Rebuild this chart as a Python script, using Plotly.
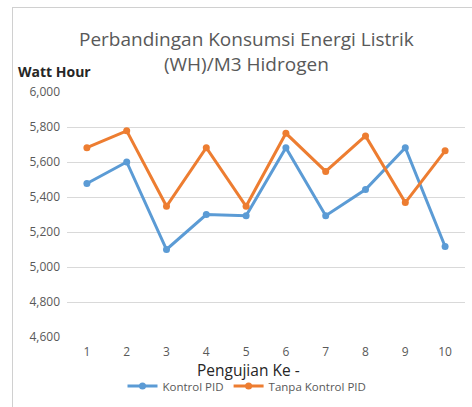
import plotly.graph_objects as go

categories = ["1", "2", "3", "4", "5", "6", "7", "8", "9", "10"]
kontrol_pid = [5477, 5600, 5100, 5300, 5293, 5682, 5293, 5443, 5682, 5117]
tanpa_kontrol_pid = [5682, 5778, 5347, 5682, 5347, 5764, 5546, 5749, 5368, 5664]
y_ticks = [4600, 4800, 5000, 5200, 5400, 5600, 5800, 6000]

W, H = 472, 407
L, R, T, B = 67, 7, 92, 70
PW, PH = W - L - R, H - T - B

def px(x):
    return (x - L) / PW

def py(y):
    return (H - B - y) / PH

FONT = "Open Sans"

fig = go.Figure()
fig.add_trace(go.Scatter(
    x=categories, y=kontrol_pid, name="Kontrol PID", mode="lines+markers",
    line=dict(color="#5B9BD5", width=3), marker=dict(size=7, color="#5B9BD5")))
fig.add_trace(go.Scatter(
    x=categories, y=tanpa_kontrol_pid, name="Tanpa Kontrol PID", mode="lines+markers",
    line=dict(color="#ED7D31", width=3), marker=dict(size=7, color="#ED7D31")))

fig.update_layout(
    width=W, height=H,
    margin=dict(l=L, r=R, t=T, b=B),
    paper_bgcolor="white", plot_bgcolor="white",
    font=dict(family=FONT, color="#595959"),
    showlegend=True,
    legend=dict(orientation="h", x=px(247), xanchor="center", y=py(386), yanchor="middle",
                font=dict(size=11.5, color="#595959"), itemwidth=30, tracegroupgap=0),
    xaxis=dict(type="category", showgrid=False, zeroline=False, showline=False,
               tickfont=dict(size=12, color="#595959"), ticks="", ticklabelstandoff=6,
               range=[-0.5, 9.5]),
    yaxis=dict(range=[4600, 6000], tickvals=y_ticks, tickformat=",", showgrid=True,
               gridcolor="#D9D9D9", gridwidth=1, zeroline=False, showline=False,
               tickfont=dict(size=12, color="#595959"), ticks="", ticklabelstandoff=6),
    annotations=[
        dict(text="Perbandingan Konsumsi Energi Listrik<br>(WH)/M3 Hidrogen", x=px(246), y=py(51),
             xref="paper", yref="paper", showarrow=False, align="center",
             font=dict(size=19, color="#595959", family=FONT), xanchor="center", yanchor="middle"),
        dict(text="<b>Watt Hour</b>", x=px(16), y=py(72), xref="paper", yref="paper",
             showarrow=False, font=dict(size=14, color="#262626", family=FONT), xanchor="left", yanchor="middle"),
        dict(text="Pengujian Ke -", x=px(248), y=py(370), xref="paper", yref="paper",
             showarrow=False, font=dict(size=15.5, color="#262626", family=FONT), xanchor="center", yanchor="middle"),
    ],
    shapes=[
        dict(type="line", xref="paper", yref="paper", x0=px(12), x1=px(472), y0=py(7.5), y1=py(7.5),
             line=dict(color="#D0D0D0", width=1)),
        dict(type="line", xref="paper", yref="paper", x0=px(12.5), x1=px(12.5), y0=py(7), y1=py(407),
             line=dict(color="#D0D0D0", width=1)),
    ],
)

fig.write_html("out.html", config={"displayModeBar": False},
               post_script="document.body.style.margin='0';document.body.style.overflow='hidden';")
